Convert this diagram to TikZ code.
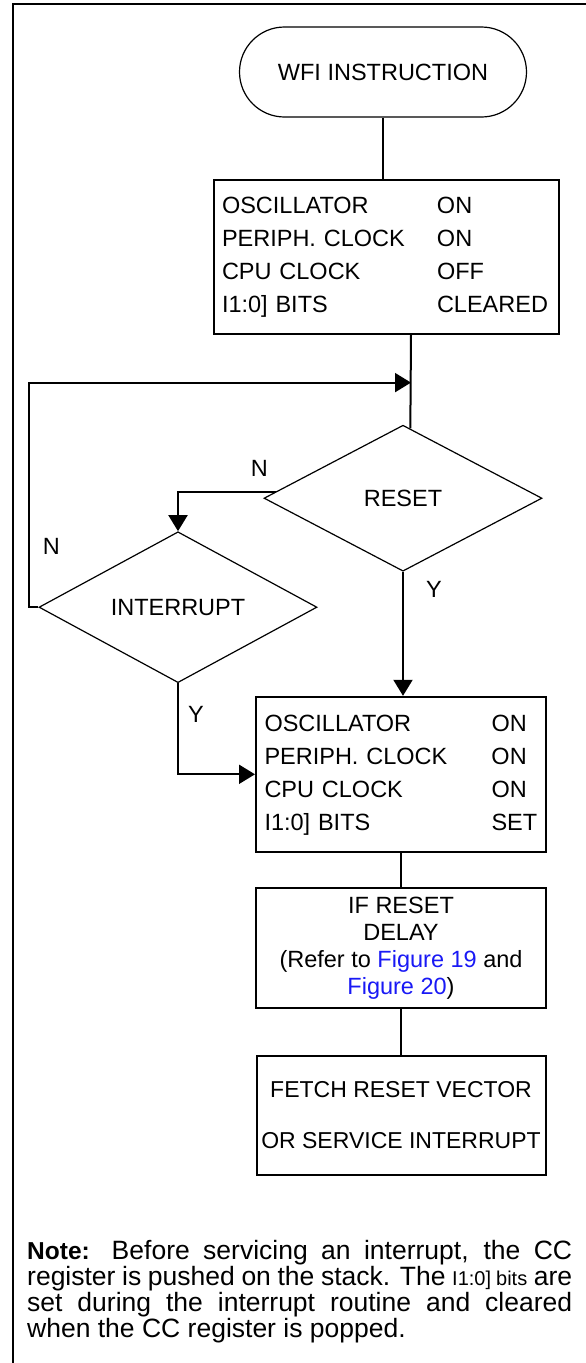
\documentclass[tikz,border=0pt]{standalone}
\usepackage{fontspec}
\setmainfont{Liberation Sans}
\usepackage{xcolor}
\usetikzlibrary{positioning, arrows.meta, shapes.geometric, shapes.misc}
\definecolor{figblue}{RGB}{25,25,245}

\begin{document}
\begin{tikzpicture}[
  x=1pt, y=1pt,
  font=\fontsize{23.5}{33}\selectfont,
  >={Triangle[length=16pt, width=19pt]},
  conn/.style={line width=2pt},
  frameline/.style={line width=2pt, line join=miter},
  terminal/.style={
    draw, rounded rectangle, line width=1.2pt,
    minimum width=287pt, minimum height=90pt, inner sep=0pt
  },
  statebox/.style={draw, line width=2pt, align=left, inner xsep=8.5pt, inner ysep=0pt},
  stepbox/.style={draw, line width=2pt, align=center, inner sep=0pt, minimum width=290pt},
  decision/.style={
    draw, diamond, line width=1.2pt,
    minimum width=278pt, minimum height=146pt, inner sep=0pt
  },
  lbl/.style={inner sep=0pt}
]
\useasboundingbox (0,0) rectangle (586,-1363);

% page frame
\draw[frameline] (13,-1363) -- (13,-4) -- (586,-4);

\node[terminal] (wfi) at (383,-72) {WFI INSTRUCTION};

\node[statebox, text width=328pt, minimum height=154pt, below=61pt of wfi, xshift=3pt] (sleep) {%
  \begin{tabular}{@{}p{215pt}@{}l@{}}
  OSCILLATOR & ON\\
  PERIPH. CLOCK & ON\\
  CPU CLOCK & OFF\\
  I1:0] BITS & CLEARED
  \end{tabular}};

\node[decision, below=90pt of sleep, xshift=17pt] (reset) {RESET};
\node[decision] (intr) at ([xshift=-225pt, yshift=-109pt]reset.center) {INTERRUPT};

\node[statebox, text width=273pt, minimum height=155pt, below=124pt of reset, xshift=-2pt] (wake) {%
  \begin{tabular}{@{}p{227pt}@{}l@{}}
  OSCILLATOR & ON\\
  PERIPH. CLOCK & ON\\
  CPU CLOCK & ON\\
  I1:0] BITS & SET
  \end{tabular}};

\node[stepbox, minimum height=120pt, below=34pt of wake, font=\fontsize{23.5}{27}\selectfont] (delay) {%
  IF RESET\\
  DELAY\\
  (Refer to \textcolor{figblue}{Figure 19} and\\
  \textcolor{figblue}{Figure 20})};

\node[stepbox, minimum width=289pt, minimum height=119pt, below=46pt of delay, font=\fontsize{23}{51}\selectfont] (fetch) {%
  FETCH RESET VECTOR\\
  OR SERVICE INTERRUPT};

\coordinate (join) at ([xshift=25pt, yshift=-48pt]sleep.south);

% connectors
\draw[conn] (wfi.south) -- (wfi.south |- sleep.north);
\draw[conn] (sleep.south -| join) -- (reset.84);
\draw[->, conn] (reset.177) -| (intr.north);
\draw[->, conn] (intr.west) -- ++(-9,0) |- (join);
\draw[->, conn] (reset.south) -- (reset.south |- wake.north);
\draw[->, conn] (intr.south) |- (wake.west);
\draw[conn] (wake) -- (delay);
\draw[conn] (delay) -- (fetch);

\node[lbl, above left=15pt and 8pt of reset.177] (nreset) {N};
\node[lbl] (nintr) at ([xshift=13pt, yshift=61pt]intr.west) {N};
\node[lbl] (yreset) at ([xshift=31pt, yshift=-18pt]reset.south) {Y};
\node[lbl] (yintr) at ([xshift=18pt, yshift=-31pt]intr.south) {Y};

\node[anchor=north west, inner sep=0pt, text width=545pt, align=justify,
      font=\fontsize{26.5}{26}\selectfont] (note) at (27,-1240) {%
  \noindent{\fontsize{24.5}{26}\selectfont\textbf{Note:}} Before servicing an interrupt, the CC\linebreak
  register is pushed on the stack. The {\fontsize{20}{26}\selectfont I1:0] bits} are\linebreak
  set during the interrupt routine and cleared\linebreak
  when the CC register is popped.};

\end{tikzpicture}
\end{document}
